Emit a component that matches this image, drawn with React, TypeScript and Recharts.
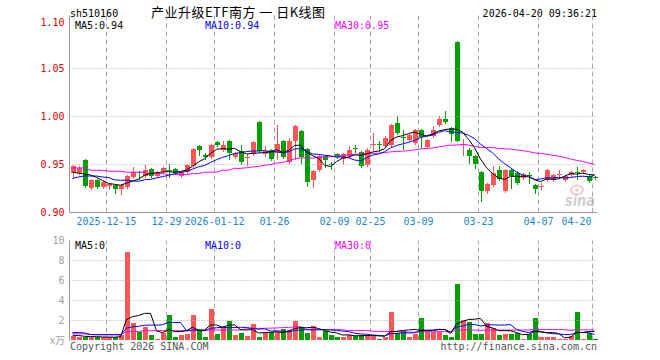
import React from 'react';
import { ComposedChart, Bar, Line, XAxis, YAxis, ReferenceLine } from 'recharts';

const dates = [
  '2025-12-05', '2025-12-08', '2025-12-09', '2025-12-10', '2025-12-11', '2025-12-12',
  '2025-12-15', '2025-12-16', '2025-12-17', '2025-12-18', '2025-12-19',
  '2025-12-22', '2025-12-23', '2025-12-24', '2025-12-25', '2025-12-26',
  '2025-12-29', '2025-12-30', '2025-12-31',
  '2026-01-05', '2026-01-06', '2026-01-07', '2026-01-08', '2026-01-09',
  '2026-01-12', '2026-01-13', '2026-01-14', '2026-01-15', '2026-01-16',
  '2026-01-19', '2026-01-20', '2026-01-21', '2026-01-22', '2026-01-23',
  '2026-01-26', '2026-01-27', '2026-01-28', '2026-01-29', '2026-01-30',
  '2026-02-02', '2026-02-03', '2026-02-04', '2026-02-05', '2026-02-06',
  '2026-02-09', '2026-02-10', '2026-02-11', '2026-02-12', '2026-02-13',
  '2026-02-24', '2026-02-25', '2026-02-26', '2026-02-27',
  '2026-03-02', '2026-03-03', '2026-03-04', '2026-03-05', '2026-03-06',
  '2026-03-09', '2026-03-10', '2026-03-11', '2026-03-12', '2026-03-13',
  '2026-03-16', '2026-03-17', '2026-03-18', '2026-03-19', '2026-03-20',
  '2026-03-23', '2026-03-24', '2026-03-25', '2026-03-26', '2026-03-27',
  '2026-03-30', '2026-03-31', '2026-04-01', '2026-04-02', '2026-04-03',
  '2026-04-07', '2026-04-08', '2026-04-09', '2026-04-10',
  '2026-04-13', '2026-04-14', '2026-04-15', '2026-04-16', '2026-04-17',
  '2026-04-20',
];

const opens = [
  0.941, 0.941, 0.955, 0.926, 0.934, 0.927, 0.928, 0.929, 0.925, 0.927,
  0.937, 0.942, 0.938, 0.945, 0.938, 0.942, 0.944, 0.945, 0.938, 0.942,
  0.948, 0.969, 0.960, 0.958, 0.973, 0.965, 0.974, 0.958, 0.964, 0.957,
  0.961, 0.994, 0.961, 0.965, 0.962, 0.975, 0.953, 0.974, 0.985, 0.966,
  0.934, 0.944, 0.959, 0.951, 0.961, 0.956, 0.959, 0.967, 0.963, 0.949,
  0.970, 0.971, 0.969, 0.970, 0.993, 0.979, 0.976, 0.972, 0.986, 0.968,
  0.980, 0.991, 0.997, 0.988, 1.078, 0.970, 0.965, 0.959, 0.942, 0.922,
  0.929, 0.944, 0.922, 0.944, 0.941, 0.936, 0.939, 0.929, 0.927, 0.934,
  0.934, 0.939, 0.934, 0.939, 0.942, 0.942, 0.938, 0.937,
];

const highs = [
  0.949, 0.948, 0.956, 0.935, 0.935, 0.933, 0.931, 0.930, 0.930, 0.939,
  0.947, 0.943, 0.950, 0.946, 0.943, 0.947, 0.951, 0.946, 0.943, 0.950,
  0.967, 0.970, 0.962, 0.971, 0.974, 0.975, 0.976, 0.963, 0.970, 0.961,
  0.974, 0.995, 0.969, 0.966, 0.991, 0.976, 0.978, 0.991, 0.986, 0.967,
  0.944, 0.960, 0.960, 0.953, 0.962, 0.962, 0.969, 0.970, 0.964, 0.967,
  0.983, 0.974, 0.980, 0.992, 1.001, 0.986, 0.983, 0.987, 0.987, 0.977,
  0.990, 1.001, 1.006, 0.989, 1.079, 0.977, 0.967, 0.960, 0.943, 0.931,
  0.948, 0.948, 0.945, 0.945, 0.943, 0.941, 0.942, 0.930, 0.931, 0.945,
  0.940, 0.944, 0.939, 0.943, 0.947, 0.945, 0.939, 0.938,
];

const lows = [
  0.937, 0.940, 0.927, 0.925, 0.926, 0.926, 0.925, 0.920, 0.919, 0.926,
  0.936, 0.935, 0.937, 0.937, 0.937, 0.941, 0.937, 0.940, 0.937, 0.941,
  0.947, 0.960, 0.956, 0.957, 0.969, 0.964, 0.956, 0.957, 0.951, 0.949,
  0.960, 0.963, 0.959, 0.955, 0.956, 0.957, 0.952, 0.956, 0.952, 0.928,
  0.927, 0.943, 0.947, 0.945, 0.957, 0.952, 0.958, 0.963, 0.947, 0.948,
  0.965, 0.964, 0.968, 0.969, 0.982, 0.966, 0.975, 0.971, 0.968, 0.967,
  0.979, 0.990, 0.993, 0.975, 0.974, 0.960, 0.952, 0.946, 0.912, 0.920,
  0.928, 0.934, 0.921, 0.926, 0.930, 0.935, 0.931, 0.920, 0.924, 0.933,
  0.933, 0.936, 0.933, 0.938, 0.935, 0.941, 0.932, 0.935,
];

const closes = [
  0.948, 0.946, 0.928, 0.934, 0.927, 0.932, 0.930, 0.924, 0.929, 0.938,
  0.942, 0.941, 0.944, 0.938, 0.942, 0.946, 0.943, 0.941, 0.942, 0.949,
  0.966, 0.965, 0.958, 0.970, 0.970, 0.970, 0.962, 0.962, 0.953, 0.958,
  0.973, 0.964, 0.964, 0.956, 0.971, 0.958, 0.974, 0.990, 0.958, 0.932,
  0.943, 0.959, 0.955, 0.950, 0.958, 0.961, 0.965, 0.966, 0.948, 0.965,
  0.971, 0.970, 0.978, 0.991, 0.983, 0.978, 0.981, 0.986, 0.979, 0.976,
  0.986, 0.997, 0.994, 0.982, 0.975, 0.971, 0.959, 0.951, 0.922, 0.930,
  0.941, 0.935, 0.944, 0.938, 0.931, 0.940, 0.938, 0.924, 0.928, 0.944,
  0.939, 0.940, 0.938, 0.942, 0.941, 0.944, 0.933, 0.936,
];

// volume in 万手
const volumes = [
  0.47, 0.37, 0.4, 0.33, 0.33, 0.33, 0.33, 0.33, 0.57, 8.9,
  1.8, 0.9, 1.4, 0.57, 0.2, 0.8, 2.57, 0.3, 0.57, 0.67,
  2.57, 0.97, 0.4, 3.17, 0.67, 1.4, 2.0, 0.57, 0.8, 0.47,
  1.63, 0.3, 0.73, 0.9, 0.83, 1.17, 1.07, 2.0, 1.33, 0.8,
  1.47, 0.4, 0.97, 0.57, 0.4, 0.4, 0.53, 0.47, 0.53, 0.57,
  0.53, 0.2, 0.33, 2.8, 0.73, 0.97, 0.4, 0.67, 2.3, 0.87,
  0.87, 0.87, 0.57, 0.3, 5.67, 2.07, 1.9, 0.7, 0.7, 1.73,
  1.23, 0.57, 0.67, 0.67, 0.8, 0.2, 0.67, 2.3, 0.3, 0.4,
  0.3, 0.2, 0.2, 0.47, 2.9, 0.2, 0.73, 0.2,
];

// moving-average values at the start of the window (they depend on earlier days)
const ma5Head = [0.942, 0.941, 0.94, 0.939];
const ma10Head = [0.9354, 0.937, 0.938, 0.938, 0.938, 0.937, 0.9364, 0.934, 0.9336];
const ma30Head = [
  0.9465, 0.9465, 0.9465, 0.944, 0.944, 0.944, 0.943, 0.943, 0.943, 0.942,
  0.942, 0.942, 0.942, 0.9405, 0.9405, 0.9405, 0.9395, 0.9395, 0.9395, 0.9395,
  0.9405, 0.9405, 0.942, 0.942, 0.942, 0.944, 0.944, 0.946, 0.946,
];
const vma5Head = [0.53, 0.5, 0.42, 0.4];
const vma10Head = [0.8, 0.8, 0.75, 0.6, 0.57, 0.57, 0.57, 0.57, 0.57];
const vma30Head = [
  0.67, 0.67, 0.67, 0.6, 0.6, 0.6, 0.6, 0.6, 0.6, 0.9,
  0.9, 0.9, 0.98, 0.98, 0.98, 0.98, 0.98, 0.98, 0.98, 0.98,
  0.98, 1.05, 1.05, 1.05, 1.05, 1.05, 1.05, 1.05, 1.05,
];

const priceTicks = [0.9, 0.95, 1.0, 1.05, 1.1];
const priceGrid = [0.95, 1.0, 1.05];
const volTicks = [2, 4, 6, 8, 10];
const volGrid = [2, 4, 6, 8];
const tickDates = [
  '2025-12-15', '2025-12-29', '2026-01-12', '2026-01-26', '2026-02-09',
  '2026-02-25', '2026-03-09', '2026-03-23', '2026-04-07', '2026-04-20',
];
const tickLabels = [
  '2025-12-15', '12-29', '2026-01-12', '01-26', '02-09',
  '02-25', '03-09', '03-23', '04-07', '04-20',
];

const RED = '#ff5555';
const GREEN = '#00a000';
const FRAME = '#999999';
const GRID = '#aaaaaa';
const MONO = "'DejaVu Sans Mono', 'Liberation Mono', monospace";
const CJK = "'Noto Sans CJK SC', sans-serif";

function movingAverage(vals: number[], n: number, head: number[]) {
  return vals.map((_, i) => {
    if (i < n - 1) return head[i];
    let s = 0;
    for (let k = i - n + 1; k <= i; k++) s += vals[k];
    return s / n;
  });
}

const ma5 = movingAverage(closes, 5, ma5Head);
const ma10 = movingAverage(closes, 10, ma10Head);
const ma30 = movingAverage(closes, 30, ma30Head);
const vma5 = movingAverage(volumes, 5, vma5Head);
const vma10 = movingAverage(volumes, 10, vma10Head);
const vma30 = movingAverage(volumes, 30, vma30Head);

const rows = dates.map((d, i) => ({
  d,
  o: opens[i],
  h: highs[i],
  l: lows[i],
  c: closes[i],
  hl: [lows[i], highs[i]],
  v: volumes[i],
  up: closes[i] >= opens[i],
  ma5: ma5[i],
  ma10: ma10[i],
  ma30: ma30[i],
  vma5: vma5[i],
  vma10: vma10[i],
  vma30: vma30[i],
}));

function Candle(props: any) {
  let { x, y, width, height, payload } = props;
  if (x == null || y == null || !payload) return null;
  if (height < 0) {
    y = y + height;
    height = -height;
  }
  const { o, h, l, c } = payload;
  const color = c >= o ? RED : GREEN;
  const k = h > l ? height / (h - l) : 0;
  const left = Math.round(x);
  const w = Math.max(1, Math.round(width));
  const mid = left + Math.floor(w / 2);
  const yTop = Math.round(y);
  const yBot = Math.round(y + height);
  const bTop = Math.round(y + (h - Math.max(o, c)) * k);
  const bBot = Math.round(y + (h - Math.min(o, c)) * k);
  return (
    <g shapeRendering="crispEdges">
      <rect x={mid} y={yTop} width={1} height={Math.max(1, yBot - yTop + 1)} fill={color} />
      <rect x={left} y={bTop} width={w} height={Math.max(1, bBot - bTop)} fill={color} />
    </g>
  );
}

function VolBar(props: any) {
  let { x, y, width, height, payload } = props;
  if (x == null || y == null || !payload) return null;
  if (height < 0) {
    y = y + height;
    height = -height;
  }
  const top = Math.round(y);
  const bot = Math.floor(y + height);
  return (
    <rect
      x={Math.round(x)}
      y={top}
      width={Math.max(1, Math.round(width))}
      height={Math.max(0, bot - top)}
      fill={payload.up ? RED : GREEN}
      shapeRendering="crispEdges"
    />
  );
}

function VGrid(props: any) {
  const { x1, y1, y2 } = props;
  if (x1 == null) return null;
  const x = x1 - 2;
  return <line x1={x} x2={x} y1={y1} y2={y2} stroke={GRID} strokeWidth={1} strokeDasharray="5 3" />;
}

function PriceTick(props: any) {
  const { x, y, payload } = props;
  const v = payload.value as number;
  const dy = v >= 1.1 ? 5 : 3.5;
  return (
    <text x={x} y={y} dy={dy} textAnchor="end" fill="#e00000" fontSize={10} fontFamily={MONO}>
      {v.toFixed(2)}
    </text>
  );
}

function VolTick(props: any) {
  const { x, y, payload } = props;
  return (
    <text x={x} y={y} dy={3.5} textAnchor="end" fill="#a0a0a0" fontSize={10} fontFamily={MONO}>
      {String(payload.value)}
    </text>
  );
}

function DateTick(props: any) {
  const { x, y, payload } = props;
  const k = tickDates.indexOf(payload.value);
  if (k < 0) return null;
  const last = k === tickDates.length - 1;
  return (
    <text
      x={last ? x - 3 : x - 2}
      y={y + 12.8}
      textAnchor={last ? 'end' : 'middle'}
      fill="#1a88d0"
      fontSize={10}
      fontFamily={MONO}
    >
      {tickLabels[k]}
    </text>
  );
}

export default function App() {
  return (
    <div
      style={{
        position: 'absolute',
        left: 0,
        top: 0,
        width: 660,
        height: 360,
        background: '#ffffff',
        overflow: 'hidden',
      }}
    >
      <svg width={660} height={360} style={{ position: 'absolute', left: 0, top: 0 }}>
        <text x={70} y={16.6} fontSize={10} fontFamily={MONO} fill="#000">sh510160</text>
        <text x={151} y={16.8} fontSize={13} fontFamily={CJK} fill="#000" textLength={174} lengthAdjust="spacing">
          产业升级ETF南方 一 日K线图
        </text>
        <text x={597} y={16.6} fontSize={10} fontFamily={MONO} fill="#000" textAnchor="end">2026-04-20 09:36:21</text>

        <text x={75} y={29.4} fontSize={10} fontFamily={MONO} fill="#000">MA5:0.94</text>
        <text x={205} y={29.4} fontSize={10} fontFamily={MONO} fill="#0000ff">MA10:0.94</text>
        <text x={335} y={29.4} fontSize={10} fontFamily={MONO} fill="#ff00ff">MA30:0.95</text>

        <g opacity={0.55}>
          <ellipse cx={577} cy={190} rx={6} ry={4.5} fill="none" stroke="#f0a0a0" strokeWidth={2} />
          <circle cx={577} cy={190} r={1.8} fill="#f0a0a0" />
          <text x={595} y={206} fontSize={15} fontWeight="bold" fontStyle="italic" fontFamily="'DejaVu Sans', sans-serif" fill="#a8a8a8" textAnchor="end" textLength={30} lengthAdjust="spacingAndGlyphs">
            sina
          </text>
        </g>

        <text x={75} y={249.4} fontSize={10} fontFamily={MONO} fill="#000">MA5:0</text>
        <text x={205} y={249.4} fontSize={10} fontFamily={MONO} fill="#0000ff">MA10:0</text>
        <text x={335} y={249.4} fontSize={10} fontFamily={MONO} fill="#ff00ff">MA30:0</text>

        <text x={65} y={344} fontSize={10} fontFamily={CJK} fill="#a0a0a0" textAnchor="end">x万</text>
        <text x={70} y={350} fontSize={10} fontFamily={MONO} fill="#555">Copyright 2026 SINA.COM</text>
        <text x={597} y={350} fontSize={10} fontFamily={MONO} fill="#555" textAnchor="end">http://finance.sina.com.cn</text>
      </svg>

      <div style={{ position: 'absolute', left: 0, top: 0 }}>
        <ComposedChart
          width={660}
          height={233}
          data={rows}
          margin={{ top: 15.5, right: 62.5, bottom: 0.5, left: 9.5 }}
        >
          <XAxis
            dataKey="d"
            ticks={tickDates}
            interval={0}
            tickLine={false}
            tickSize={0}
            tickMargin={0}
            height={20}
            axisLine={{ stroke: FRAME }}
            tick={(p: any) => <DateTick {...p} />}
          />
          <XAxis
            xAxisId="top"
            dataKey="d"
            orientation="top"
            height={0}
            tick={false}
            tickLine={false}
            axisLine={{ stroke: FRAME }}
          />
          <YAxis
            type="number"
            domain={[0.9, 1.10521]}
            ticks={priceTicks}
            interval={0}
            allowDataOverflow
            width={60}
            tickSize={0}
            tickMargin={5}
            tickLine={false}
            axisLine={{ stroke: FRAME }}
            tick={(p: any) => <PriceTick {...p} />}
          />
          <YAxis
            yAxisId="r"
            orientation="right"
            type="number"
            domain={[0, 1]}
            width={0}
            tick={false}
            tickLine={false}
            axisLine={{ stroke: FRAME }}
          />
          {priceGrid.map((v) => (
            <ReferenceLine key={'pg' + v} y={v} stroke={GRID} strokeDasharray="1 2" />
          ))}
          {tickDates.map((d) => (
            <ReferenceLine key={'pv' + d} x={d} stroke={GRID} shape={(p: any) => <VGrid {...p} />} />
          ))}
          <Bar dataKey="hl" barSize={5} isAnimationActive={false} shape={(p: any) => <Candle {...p} />} />
          <Line type="linear" dataKey="ma30" stroke="#ff00ff" strokeWidth={1} dot={false} isAnimationActive={false} />
          <Line type="linear" dataKey="ma10" stroke="#0000ff" strokeWidth={1} dot={false} isAnimationActive={false} />
          <Line type="linear" dataKey="ma5" stroke="#000000" strokeWidth={1} dot={false} isAnimationActive={false} />
        </ComposedChart>
      </div>

      <div style={{ position: 'absolute', left: 0, top: 233 }}>
        <ComposedChart
          width={660}
          height={127}
          data={rows}
          margin={{ top: 7.5, right: 62.5, bottom: 19.5, left: 9.5 }}
        >
          <XAxis
            dataKey="d"
            height={0}
            tick={false}
            tickLine={false}
            axisLine={{ stroke: FRAME }}
          />
          <XAxis
            xAxisId="top"
            dataKey="d"
            orientation="top"
            height={0}
            tick={false}
            tickLine={false}
            axisLine={{ stroke: FRAME }}
          />
          <YAxis
            type="number"
            domain={[0, 10]}
            ticks={volTicks}
            interval={0}
            allowDataOverflow
            width={60}
            tickSize={0}
            tickMargin={5}
            tickLine={false}
            axisLine={{ stroke: FRAME }}
            tick={(p: any) => <VolTick {...p} />}
          />
          <YAxis
            yAxisId="r"
            orientation="right"
            type="number"
            domain={[0, 1]}
            width={0}
            tick={false}
            tickLine={false}
            axisLine={{ stroke: FRAME }}
          />
          {volGrid.map((v) => (
            <ReferenceLine key={'vg' + v} y={v} stroke={GRID} strokeDasharray="1 2" />
          ))}
          {tickDates.map((d) => (
            <ReferenceLine key={'vv' + d} x={d} stroke={GRID} shape={(p: any) => <VGrid {...p} />} />
          ))}
          <Bar dataKey="v" barSize={5} isAnimationActive={false} shape={(p: any) => <VolBar {...p} />} />
          <Line type="linear" dataKey="vma30" stroke="#ff00ff" strokeWidth={1} dot={false} isAnimationActive={false} />
          <Line type="linear" dataKey="vma10" stroke="#0000ff" strokeWidth={1} dot={false} isAnimationActive={false} />
          <Line type="linear" dataKey="vma5" stroke="#000000" strokeWidth={1} dot={false} isAnimationActive={false} />
        </ComposedChart>
      </div>
    </div>
  );
}
